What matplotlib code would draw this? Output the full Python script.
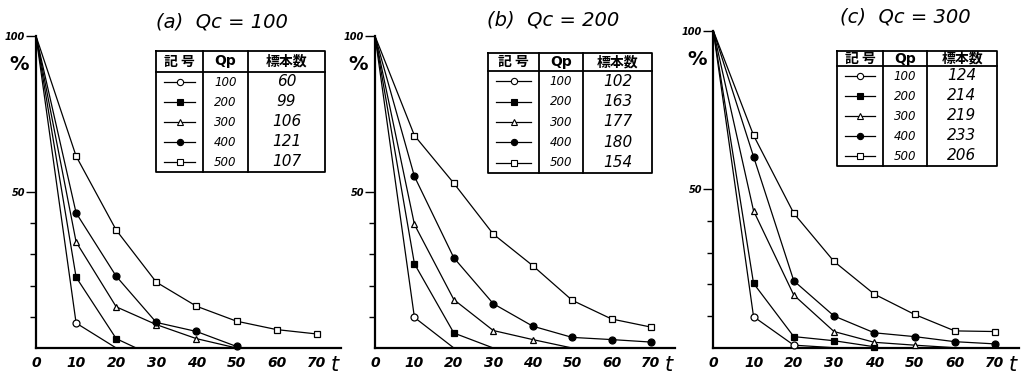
import numpy as np
import matplotlib.pyplot as plt
from matplotlib.transforms import blended_transform_factory

plt.rcParams['font.family'] = ['DejaVu Sans', 'Noto Sans CJK JP']

# ---- data ----
qp = [100, 200, 300, 400, 500]

# (a) Qc = 100
a_t = [[0, 10, 20],
       [0, 10, 20, 25],
       [0, 10, 20, 30, 40, 50],
       [0, 10, 20, 30, 40, 50],
       [0, 10, 20, 30, 40, 50, 60, 70]]
a_v = [[100, 8.0, 0],
       [100, 22.7, 3.0, 0],
       [100, 34.0, 13.2, 7.5, 3.0, 0],
       [100, 43.3, 23.0, 8.2, 5.3, 0.5],
       [100, 61.5, 37.8, 21.1, 13.4, 8.6, 5.9, 4.5]]
a_n = [60, 99, 106, 121, 107]

# (b) Qc = 200
b_t = [[0, 10, 20],
       [0, 10, 20, 30],
       [0, 10, 20, 30, 40, 50],
       [0, 10, 20, 30, 40, 50, 60, 70],
       [0, 10, 20, 30, 40, 50, 60, 70]]
b_v = [[100, 9.8, 0],
       [100, 27.0, 4.8, 0],
       [100, 39.6, 15.5, 5.6, 2.7, 0],
       [100, 55.0, 28.9, 14.2, 7.0, 3.4, 2.7, 1.9],
       [100, 68.1, 52.8, 36.5, 26.4, 15.3, 9.3, 6.7]]
b_n = [102, 163, 177, 180, 154]

# (c) Qc = 300
c_t = [[0, 10, 20, 30],
       [0, 10, 20, 30, 40],
       [0, 10, 20, 30, 40, 50, 60],
       [0, 10, 20, 30, 40, 50, 60, 70],
       [0, 10, 20, 30, 40, 50, 60, 70]]
c_v = [[100, 9.8, 0.8, 0],
       [100, 20.3, 3.5, 2.2, 0.3],
       [100, 43.2, 16.6, 5.1, 1.7, 0.8, 0],
       [100, 60.3, 21.1, 10.0, 4.7, 3.5, 1.9, 1.2],
       [100, 67.0, 42.4, 27.2, 16.9, 10.5, 5.3, 5.1]]
c_n = [124, 214, 219, 233, 206]

x_ticks = [0, 10, 20, 30, 40, 50, 60, 70]

# ---- styles ----
W, H = 1028, 378
markers = ['o', 's', '^', 'o', 's']
faces = ['white', 'black', 'white', 'black', 'white']
hand = dict(style='italic', fontweight='bold')

fig = plt.figure(figsize=(W / 100, H / 100), dpi=100)

# overlay in pixel coordinates for tables and titles
ov = fig.add_axes([0, 0, 1, 1], zorder=5)
ov.set_xlim(0, W)
ov.set_ylim(H, 0)
ov.axis('off')


def draw_table(x0, x1, c1, c2, y0, yh, y1, counts):
    lw = 1.3
    ov.plot([x0, x1, x1, x0, x0], [y0, y0, y1, y1, y0], color='black', lw=lw)
    ov.plot([x0, x1], [yh, yh], color='black', lw=lw)
    ov.plot([c1, c1], [y0, y1], color='black', lw=lw)
    ov.plot([c2, c2], [y0, y1], color='black', lw=lw)
    ym = (y0 + yh) / 2
    ov.text((x0 + c1) / 2, ym, '記 号', ha='center', va='center', fontsize=10,
            fontweight='bold', family=['Noto Sans CJK JP'])
    ov.text((c1 + c2) / 2, ym, 'Qp', ha='center', va='center', fontsize=10,
            fontweight='bold')
    ov.text((c2 + x1) / 2, ym, '標本数', ha='center', va='center', fontsize=10,
            fontweight='bold', family=['Noto Sans CJK JP'])
    rh = (y1 - yh) / 5
    for i in range(5):
        yc = yh + rh * (i + 0.5)
        ov.plot([x0 + 8, c1 - 8], [yc, yc], color='black', lw=0.9)
        ov.plot([(x0 + c1) / 2], [yc], marker=markers[i], mfc=faces[i],
                mec='black', ms=4.5, mew=0.8)
        ov.text((c1 + c2) / 2, yc, str(qp[i]), ha='center', va='center',
                fontsize=8.5, style='italic')
        ov.text((c2 + x1) / 2, yc, str(counts[i]), ha='center', va='center',
                fontsize=11, style='italic')


def draw_panel(x0, x70, y0, y10, ts, vs, counts, title, tpos, tab):
    sx = (x70 - x0) / 70.0
    sy = y10 / 10.0
    xmax, ymax = 76, 103
    ax = fig.add_axes([x0 / W, (H - y0) / H, xmax * sx / W, ymax * sy / H])
    ax.set_xlim(0, xmax)
    ax.set_ylim(0, ymax)
    ax.patch.set_alpha(0)
    for s in ['top', 'right']:
        ax.spines[s].set_visible(False)
    ax.spines['left'].set_bounds(0, 100)
    ax.spines['left'].set_linewidth(1.6)
    ax.spines['bottom'].set_linewidth(1.6)

    for i in range(5):
        t = np.array(ts[i])
        v = np.array(vs[i])
        mk = [j for j in range(len(t)) if t[j] > 0 and v[j] > 0]
        ax.plot(t, v, color='black', lw=0.9, marker=markers[i], mfc=faces[i],
                mec='black', ms=5, mew=0.9, markevery=mk, clip_on=False,
                zorder=3)

    ax.set_xticks(x_ticks)
    ax.set_xticklabels([str(x) for x in x_ticks], fontsize=10, **hand)
    ax.tick_params(axis='x', length=0, pad=6)
    ax.set_yticks([50, 100])
    ax.set_yticklabels(['50', '100'], fontsize=7, **hand)
    ax.set_yticks([10, 20, 30, 40], minor=True)
    ax.tick_params(axis='y', which='major', length=7, width=1.0, pad=1)
    ax.tick_params(axis='y', which='minor', length=4, width=1.0)

    ax.text(73.5, -5.5, 't', fontsize=15, style='italic',
            ha='left', va='center', clip_on=False)
    ax.annotate('%', xy=(0, 91), xytext=(-12, 0), textcoords='offset points',
                fontsize=14, fontweight='bold', ha='center', va='center')

    ov.text(tpos[0], tpos[1], title, fontsize=14, style='italic',
            ha='left', va='center')
    draw_table(*tab, counts)


draw_panel(36, 316.7, 348, 31.2, a_t, a_v, a_n, '(a)  Qc = 100', (156, 22),
           (156, 325, 203, 248, 51, 72, 172))
draw_panel(375, 651, 348, 31.2, b_t, b_v, b_n, '(b)  Qc = 200', (487, 20),
           (488, 652, 539, 583, 53, 71, 173))
draw_panel(713.3, 995, 347.7, 31.7, c_t, c_v, c_n, '(c)  Qc = 300', (840, 17),
           (837, 997, 883, 927, 51, 66, 166))

fig.savefig('out.png', dpi=100)
